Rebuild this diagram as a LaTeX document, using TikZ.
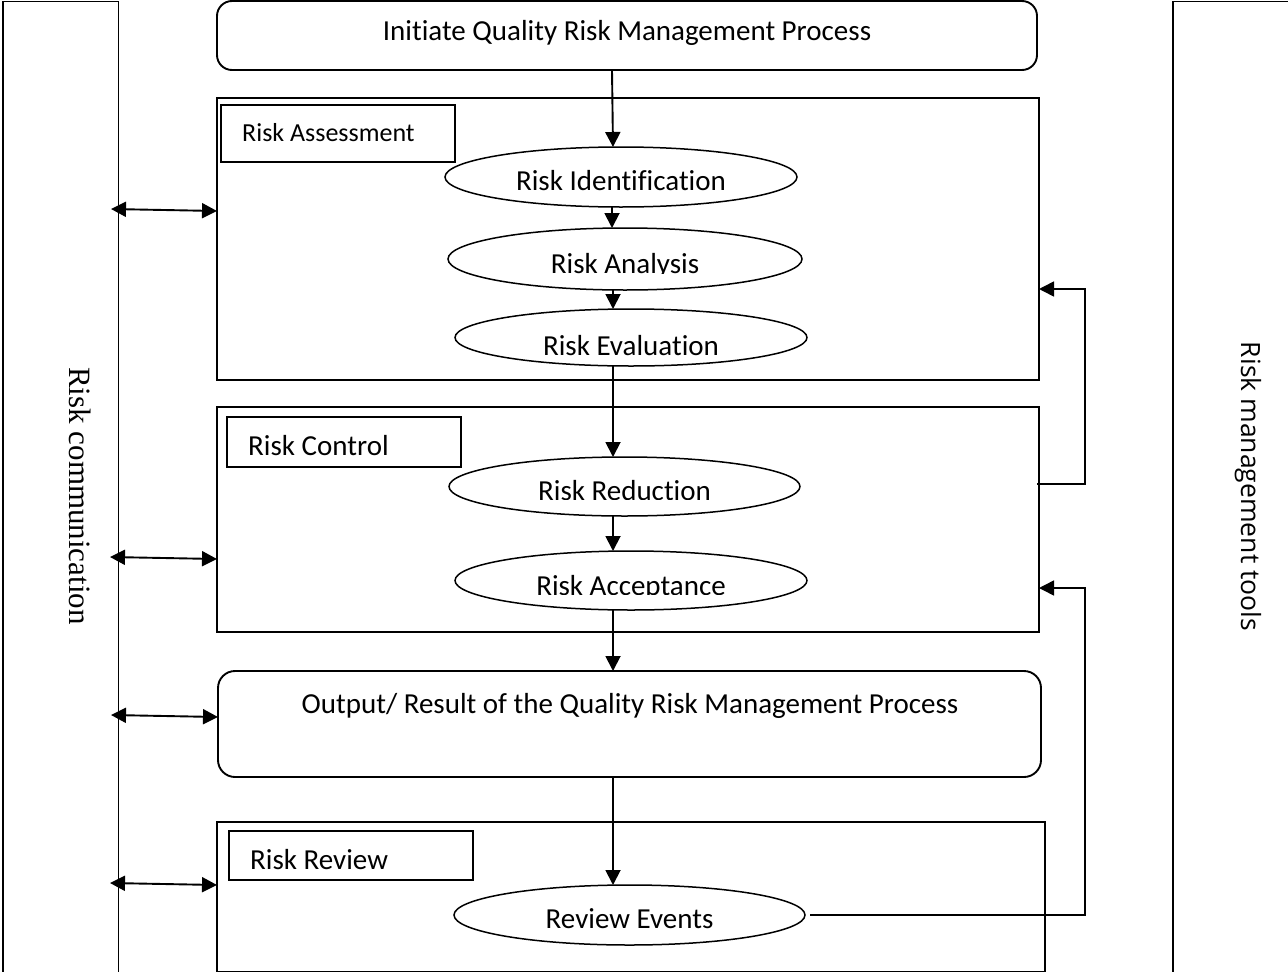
\documentclass[tikz,border=0pt]{standalone}
\usepackage{fontspec}
\setmainfont{Carlito}[Ligatures={NoCommon}]
\newfontfamily\commfont{Liberation Serif}[Ligatures={NoCommon}]
\newfontfamily\toolfont{Open Sans}[Ligatures={NoCommon}]
\usetikzlibrary{arrows.meta,shapes.geometric}

\begin{document}
\begin{tikzpicture}[x=1pt,y=-1pt,
  >={Triangle[length=15pt,width=15pt]},
  frame/.style={draw, line width=1.9pt, inner sep=0pt, outer sep=0pt, anchor=north west},
  tag/.style={draw, line width=1.7pt, inner sep=0pt, outer sep=0pt, anchor=north west},
  oval/.style={ellipse, draw, line width=1.5pt, inner sep=0pt, outer sep=0pt},
  etext/.style={anchor=base, inner sep=0pt, font=\fontsize{29}{34}\selectfont},
  ttext/.style={anchor=base west, inner sep=0pt, font=\fontsize{29}{34}\selectfont},
  arr/.style={->, line width=1.9pt},
  dbl/.style={<->, line width=1.9pt}]

\clip (0,0) rectangle (1288,972);
\fill[white] (0,0) rectangle (1288,972);

% side columns
\node[frame, minimum width=115.5pt, minimum height=1000pt] (commbox) at (3,1.5) {};
\node[frame, minimum width=130pt, minimum height=1000pt] (toolbox) at (1173,1.5) {};
\node[anchor=base west, rotate=-90, inner sep=0pt, font=\commfont\fontsize{31}{36}\selectfont]
  (commtxt) at (69.5,367) {Risk communication};
\node[anchor=base, rotate=-90, inner sep=0pt, font=\toolfont\fontsize{26.5}{32}\selectfont]
  (tooltxt) at (1241,486.5) {Risk management tools};

% main process blocks
\node[frame, rounded corners=15pt, minimum width=820pt, minimum height=69pt] (initiate) at (217,1) {};
\node[etext] (initiatetxt) at (627,40) {Initiate Quality Risk Management Process};

\node[frame, minimum width=822pt, minimum height=282pt] (assess) at (217,98) {};
\node[tag, minimum width=234pt, minimum height=57pt] (assesstag) at (221,105) {};
\node[ttext, font=\fontsize{26}{31}\selectfont] (assesstxt) at (242,141) {Risk Assessment};

\node[frame, minimum width=822pt, minimum height=225pt] (control) at (217,407) {};
\node[tag, minimum width=234pt, minimum height=50pt] (controltag) at (227,417) {};
\node[ttext] (controltxt) at (248,455) {Risk Control};

\node[frame, rounded corners=17pt, minimum width=823pt, minimum height=106pt] (output) at (218,671) {};
\node[etext] (outputtxt) at (630,713) {Output/ Result of the Quality Risk Management Process};

\node[frame, minimum width=828pt, minimum height=149.5pt] (review) at (217,822) {};
\node[tag, minimum width=244pt, minimum height=49pt] (reviewtag) at (229,831) {};
\node[ttext] (reviewtxt) at (250,869) {Risk Review};

% steps
\node[oval, minimum width=352pt, minimum height=60pt] (ident) at (621,177) {};
\node[etext] (identtxt) at (621,190) {Risk Identification};

\node[oval, minimum width=354pt, minimum height=62pt] (analysis) at (625,259) {};
\begin{scope}
  \clip (440,230) rectangle (810,273);
  \node[etext] (analysistxt) at (625,273.3) {Risk Analysis};
\end{scope}

\node[oval, minimum width=352pt, minimum height=57pt] (evaluation) at (631,337.5) {};
\node[etext] (evaluationtxt) at (631,355) {Risk Evaluation};

\node[oval, minimum width=351pt, minimum height=59pt] (reduction) at (624.5,486.5) {};
\begin{scope}
  \clip (440,460) rectangle (810,499);
  \node[etext] (reductiontxt) at (624.5,500.3) {Risk Reduction};
\end{scope}

\node[oval, minimum width=352pt, minimum height=59pt] (acceptance) at (631,580.5) {};
\begin{scope}
  \clip (440,555) rectangle (810,594);
  \node[etext] (acceptancetxt) at (631,595.3) {Risk Acceptance};
\end{scope}

\node[oval, minimum width=351pt, minimum height=60pt] (events) at (629.5,915) {};
\node[etext] (eventstxt) at (629.5,928.5) {Review Events};

% main flow
\coordinate (ax) at (613,0);
\coordinate (ax0) at (612,0);
\draw[arr] (initiate.south -| ax0) -- (ident.north -| ax);
\draw[arr] (ident.south -| ax0) -- (analysis.north -| ax0);
\draw[arr] (analysis.south -| ax) -- (evaluation.north -| ax);
\draw[arr] (evaluation.south -| ax) -- (reduction.north -| ax);
\draw[arr] (reduction.south -| ax) -- (acceptance.north -| ax);
\draw[arr] (acceptance.south -| ax) -- (output.north -| ax);
\draw[arr] (output.south -| ax) -- (events.north -| ax);

% communication links
\coordinate (cl1) at (111,209);  \coordinate (cr1) at (217,211);
\coordinate (cl2) at (110,557);  \coordinate (cr2) at (217,559);
\coordinate (cl3) at (111,715);  \coordinate (cr3) at (218,717);
\coordinate (cl4) at (110,883);  \coordinate (cr4) at (217,885);
\draw[dbl] (cl1) -- (cr1 -| assess.west);
\draw[dbl] (cl2) -- (cr2 -| control.west);
\draw[dbl] (cl3) -- (cr3 -| output.west);
\draw[dbl] (cl4) -- (cr4 -| review.west);

% feedback loops
\coordinate (loopx) at (1085,0);
\coordinate (fb1s) at (1037,484);
\coordinate (fb1e) at (1039,289);
\coordinate (fb2e) at (1039,588);
\draw[arr, line width=1.6pt] (fb1s) -- (fb1s -| loopx) |- (fb1e -| assess.east);
\draw[arr, line width=1.6pt] ([xshift=5pt]events.east) -- (events.east -| loopx) |- (fb2e -| control.east);

\end{tikzpicture}
\end{document}
